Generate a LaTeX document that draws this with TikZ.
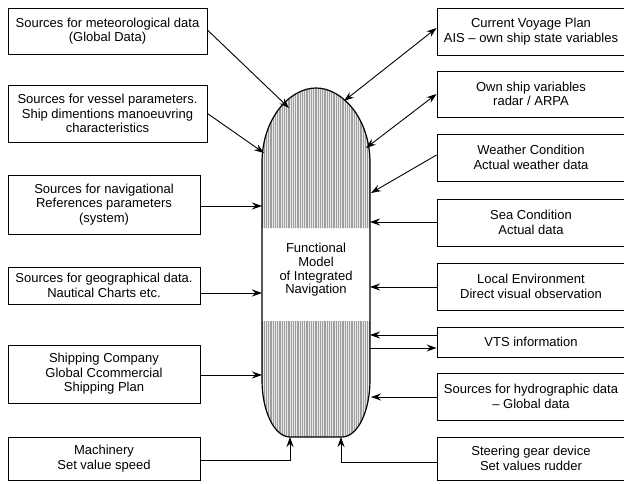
\documentclass[tikz,border=0pt]{standalone}
\usepackage{fontspec}
\setmainfont{Liberation Sans}
\usetikzlibrary{arrows.meta}
\tikzset{
  box/.style={draw=black, line width=0.9pt, align=center, inner sep=0pt,
    font=\fontsize{13}{14.5}\selectfont},
  arr/.style={line width=0.9pt, -{Stealth[length=10pt,width=7pt,inset=3.5pt]}},
  darr/.style={line width=0.9pt, {Stealth[length=10pt,width=7pt,inset=3.5pt]}-{Stealth[length=10pt,width=7pt,inset=3.5pt]}},
  hatchline/.style={draw=black!38, line width=0.3pt}
}
\begin{document}
\begin{tikzpicture}[x=1pt,y=-1pt]
\useasboundingbox (0,0) rectangle (624,484);
% hatched parts of the ship
\begin{scope}
  \clip (262,163) .. controls (262,118) and (290,88) .. (316,88)
        .. controls (342,88) and (370,118) .. (370,163) -- (370,380)
        .. controls (370,411.5) and (357.5,437) .. (342,437) -- (290,437)
        .. controls (274.5,437) and (262,411.5) .. (262,380) -- cycle;
  \clip (250,80) rectangle (380,228) (250,321) rectangle (380,445);
  \fill[gray!18] (250,80) rectangle (380,445);
  \foreach \x in {262.5,264.3,...,371} \draw[hatchline] (\x,80) -- (\x,445);
\end{scope}
% ship outline
\draw[line width=1.2pt] (262,163) .. controls (262,118) and (290,88) .. (316,88)
      .. controls (342,88) and (370,118) .. (370,163) -- (370,380)
      .. controls (370,411.5) and (357.5,437) .. (342,437) -- (290,437)
      .. controls (274.5,437) and (262,411.5) .. (262,380) -- cycle;
\node[align=center, font=\fontsize{13}{13.6}\selectfont] (fm) at (316,270)
  {Functional\\Model\\of Integrated\\Navigation};
% arrow tips on the ship
\coordinate (t1) at (289,108);
\coordinate (t2) at (264,153);
\coordinate (t3) at (262,206);
\coordinate (t4) at (262,293);
\coordinate (t5) at (262,375);
\coordinate (t6) at (290,437);
\coordinate (c6) at (290,460);
\coordinate (u1) at (344,101);
\coordinate (u2) at (366,148);
\coordinate (u3) at (371,193);
\coordinate (u4) at (370,222);
\coordinate (u5) at (370,287);
\coordinate (u6a) at (370,335);
\coordinate (u6b) at (370,348);
\coordinate (u7) at (371,397);
\coordinate (u8) at (341,437);
\coordinate (c8) at (341,462);
% left boxes
\node[box, minimum width=199pt, minimum height=46pt] (l1) at (107.5,31)
  {Sources for meteorological data\\(Global Data)};
\node[box, minimum width=199pt, minimum height=57pt] (l2) at (107.5,113.5)
  {Sources for vessel parameters.\\Ship dimentions manoeuvring\\characteristics};
\node[box, minimum width=192pt, minimum height=59pt] (l3) at (104,204.5)
  {Sources for navigational\\References parameters\\(system)};
\node[box, minimum width=192pt, minimum height=37pt] (l4) at (104,285.5)
  {Sources for geographical data.\\Nautical Charts etc.};
\node[box, minimum width=192pt, minimum height=58pt] (l5) at (104,374)
  {Shipping Company\\Global Ccommercial\\Shipping Plan};
\node[box, minimum width=192pt, minimum height=43pt] (l6) at (104,458.5)
  {Machinery\\Set value speed};
% right boxes
\node[box, minimum width=188pt, minimum height=47pt] (r1) at (531,31.5)
  {Current Voyage Plan\\AIS – own ship state variables};
\node[box, minimum width=188pt, minimum height=46pt] (r2) at (531,94)
  {Own ship variables\\radar / ARPA};
\node[box, minimum width=188pt, minimum height=47pt] (r3) at (531,157.5)
  {Weather Condition\\Actual weather data};
\node[box, minimum width=188pt, minimum height=47pt] (r4) at (531,222.5)
  {Sea Condition\\Actual data};
\node[box, minimum width=188pt, minimum height=47pt] (r5) at (531,286.5)
  {Local Environment\\Direct visual observation};
\node[box, minimum width=188pt, minimum height=30pt] (r6) at (531,342)
  {VTS information};
\node[box, minimum width=188pt, minimum height=47pt] (r7) at (531,396.5)
  {Sources for hydrographic data\\– Global data};
\node[box, minimum width=188pt, minimum height=43pt] (r8) at (531,458.5)
  {Steering gear device\\Set values rudder};
% left connectors
\draw[arr] ([yshift=1pt]l1.east) -- (t1);
\draw[arr] (l2.east) -- (t2);
\draw[arr] (l3.east |- t3) -- (t3);
\draw[arr] (l4.east |- t4) -- (t4);
\draw[arr] (l5.east |- t5) -- (t5);
\draw[arr] (l6.east |- c6) -- (c6) -- (t6);
% right connectors
\draw[darr] ([yshift=3.5pt]r1.west) -- (u1);
\draw[darr] (r2.west) -- (u2);
\draw[arr] ([yshift=2.5pt]r3.west) -- (u3);
\draw[arr] (r4.west |- u4) -- (u4);
\draw[arr] (r5.west |- u5) -- (u5);
\draw[arr] (r6.west |- u6a) -- (u6a);
\draw[arr] (u6b) -- (r6.west |- u6b);
\draw[arr] (r7.west |- u7) -- (u7);
\draw[arr] (r8.west |- c8) -- (c8) -- (u8);
\end{tikzpicture}
\end{document}
